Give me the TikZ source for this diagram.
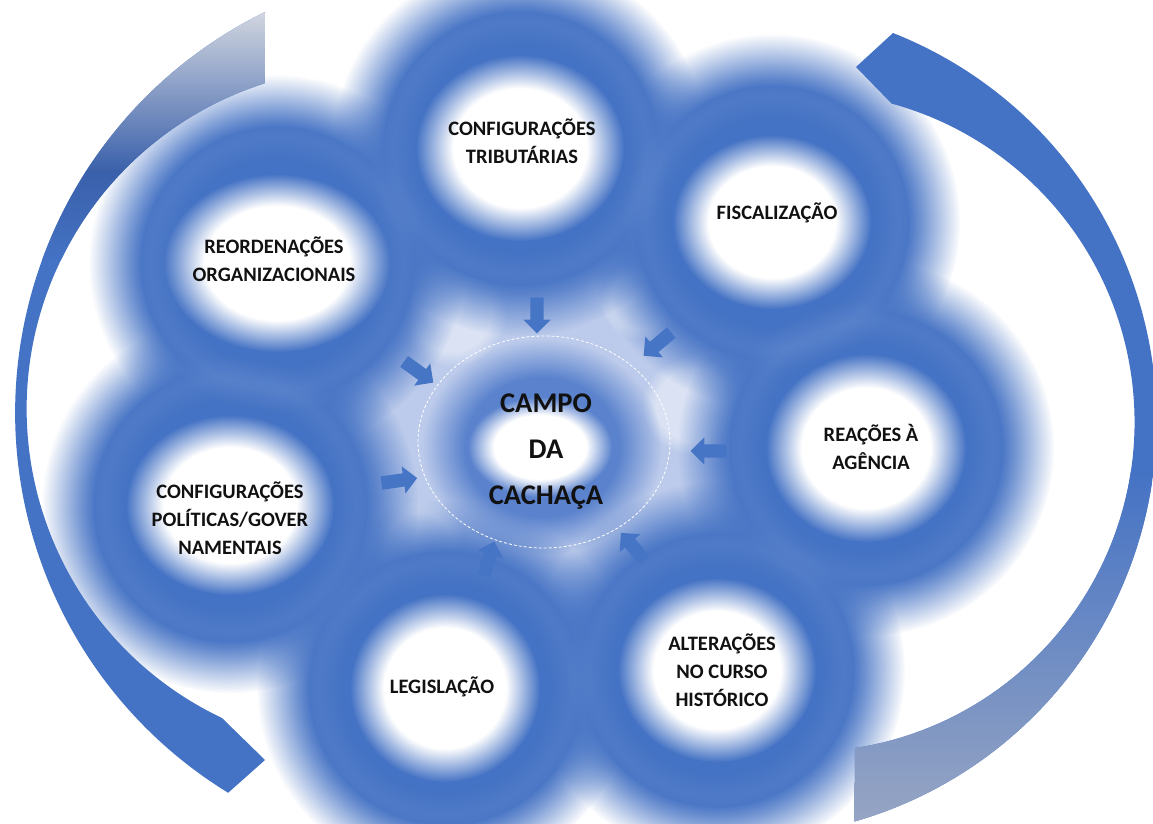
\documentclass[tikz,border=0pt]{standalone}
\usepackage{fontspec}
\setmainfont{Carlito}
\usetikzlibrary{shapes.arrows,fadings}
\definecolor{ringblue}{HTML}{4472C4}
\definecolor{starblue}{HTML}{BCCBEB}
\definecolor{midblue}{HTML}{5A82CD}
\definecolor{arcgray}{HTML}{D3D7E0}
\definecolor{arcdark}{HTML}{3A60AA}
\definecolor{arcbot}{HTML}{97A5C3}
\definecolor{arrowblue}{HTML}{4675C6}
\definecolor{txt}{HTML}{111111}
\pgfdeclareradialshading{fadeA}{\pgfpointorigin}{color(0bp)=(white); color(18bp)=(white); color(25bp)=(black); color(50bp)=(black)}
\pgfdeclarefading{blobfade}{\pgfuseshading{fadeA}}
\pgfdeclareradialshading{fadeB}{\pgfpointorigin}{color(0bp)=(white); color(16bp)=(white); color(25bp)=(black); color(50bp)=(black)}
\pgfdeclarefading{holefade}{\pgfuseshading{fadeB}}
\pgfdeclareradialshading{fadeC}{\pgfpointorigin}{color(0bp)=(black); color(14bp)=(black); color(17.5bp)=(white); color(21bp)=(black); color(50bp)=(black)}
\pgfdeclarefading{bandfade}{\pgfuseshading{fadeC}}
\tikzset{
  blob/.style={fill=ringblue, path fading=blobfade},
  hole/.style={fill=white, path fading=holefade},
  band/.style={fill=white, fill opacity=0.06, path fading=bandfade},
  glow/.style={fill=white, fill opacity=0.45, path fading=blobfade},
  lbl/.style={align=center, text=txt, font=\bfseries\fontsize{20.5}{28}\selectfont, inner sep=0pt},
  inarrow/.style={single arrow, fill=arrowblue, draw=none, minimum height=36pt, minimum width=0pt, inner xsep=0pt, inner ysep=6.5pt, single arrow head extend=7pt}
}
\def\leftarcpath{(265,12) arc[start angle=243.9, end angle=121.5, radius=446] -- (265,760) -- (222,718) arc[start angle=115.4, end angle=252.3, radius=342] -- cycle}
\def\rightarcpath{(893,33) arc[start angle=-68.4, end angle=74.0, radius=417] -- (855,748) arc[start angle=81.2, end angle=-74.7, radius=330] -- (856,67) -- cycle}
\begin{document}
\begin{tikzpicture}[x=1pt,y=-1pt]
\useasboundingbox (0,0) rectangle (1153,823);
\fill[white] (0,0) rectangle (1153,823);
\begin{scope}
\clip (0,0) rectangle (1153,823);
% ring centres
\coordinate (cTop) at (520,148);
\coordinate (cFis) at (772,222);
\coordinate (cRea) at (866,448);
\coordinate (cAlt) at (717,670);
\coordinate (cLeg) at (445,688);
\coordinate (cPol) at (230,505);
\coordinate (cReo) at (277,263);
\coordinate (cMid) at (542,447);
% light star background
\fill[starblue, path fading=blobfade] (cMid) circle (290);
\fill[glow] (452,312) circle (55);
\fill[glow] (692,405) circle (50);
\fill[glow] (420,545) circle (45);
\fill[glow] (640,300) circle (40);
% blue rings
\foreach \c in {cTop,cFis,cRea,cAlt,cLeg,cPol,cReo}
  \fill[blob] (\c) circle (188);
\foreach \c in {cTop,cFis,cRea,cAlt,cLeg,cPol,cReo}
  \fill[band] (\c) circle (180);
% centre ring
\fill[midblue, path fading=holefade] (cMid) ellipse (120 and 108);
% white holes
\fill[hole] (cTop) ellipse (104 and 93);
\fill[hole] (cFis) ellipse (99 and 87);
\fill[hole] (cRea) ellipse (100 and 94);
\fill[hole] (cAlt) ellipse (99 and 92);
\fill[hole] (cLeg) ellipse (95 and 94);
\fill[hole] (cPol) ellipse (104 and 90);
\fill[hole] (cReo) ellipse (113 and 89);
\fill[hole] (540,447) ellipse (72 and 50);
% dashed ellipse
\draw[white, dash pattern=on 3pt off 2pt, line width=0.8pt] (544,442) ellipse (126 and 106);
% arrows
\node[inarrow, rotate=-90] (a1) at (537,312) {};
\node[inarrow, rotate=-140] (a2) at (660,342) {};
\node[inarrow, rotate=-36] (a3) at (416,370) {};
\node[inarrow, rotate=8] (a4) at (396,481) {};
\node[inarrow, rotate=180] (a5) at (712,451) {};
\node[inarrow, rotate=73] (a6) at (488,562) {};
\node[inarrow, rotate=131] (a7) at (635,549) {};
% outer arcs
\fill[ringblue] \leftarcpath;
\begin{scope}
\clip \leftarcpath;
\shade[top color=arcgray, bottom color=arcdark] (0,10) rectangle (300,172);
\shade[top color=arcdark, bottom color=ringblue] (0,171) rectangle (300,260);
\end{scope}
\fill[ringblue] \rightarcpath;
\begin{scope}
\clip \rightarcpath;
\shade[top color=ringblue, bottom color=arcbot] (830,470) rectangle (1153,823);
\end{scope}
\end{scope}
% labels
\node[lbl] (trib) at (522,141) {CONFIGURAÇÕES\\TRIBUTÁRIAS};
\node[lbl] (fisc) at (777,213) {FISCALIZAÇÃO};
\node[lbl] (reor) at (274,259) {REORDENAÇÕES\\ORGANIZACIONAIS};
\node[lbl] (reac) at (871,447) {REAÇÕES À\\AGÊNCIA};
\node[lbl] (pol) at (230,518) {CONFIGURAÇÕES\\POLÍTICAS/GOVER\\NAMENTAIS};
\node[lbl] (leg) at (442,687) {LEGISLAÇÃO};
\node[lbl] (alt) at (722,670) {ALTERAÇÕES\\NO CURSO\\HISTÓRICO};
\node[lbl, font=\bfseries\fontsize{28.5}{46}\selectfont] (campo) at (546,452) {CAMPO\\DA\\CACHAÇA};
\end{tikzpicture}
\end{document}
